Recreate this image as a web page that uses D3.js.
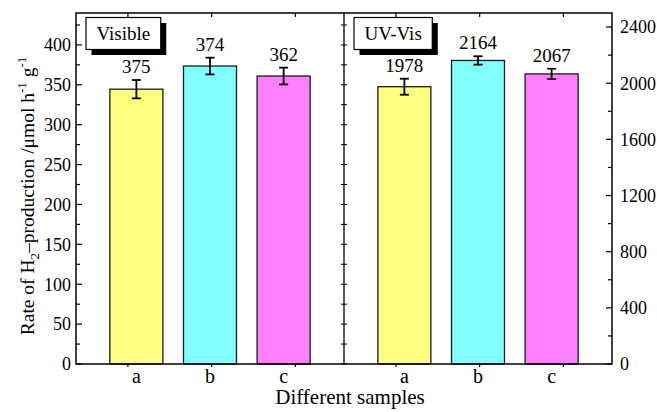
<!DOCTYPE html>
<html><head><meta charset="utf-8">
<script src="https://cdn.jsdelivr.net/npm/d3@7"></script>
<style>body{margin:0;background:#fff}svg{display:block}
svg text{font-family:"Liberation Serif","Times New Roman","DejaVu Serif",serif;}</style></head>
<body>
<svg id="chart" width="657" height="412"></svg>
<script>
// ---- data ----
const categories = ["a", "b", "c"];
const panelNames = ["Visible", "UV-Vis"];
const visibleValues = [344.5, 373.5, 361];
const visibleErrors = [11.5, 10.5, 10.5];
const visibleLabels = ["375", "374", "362"];
const uvVisValues = [1975, 2162, 2066];
const uvVisErrors = [57, 30, 37];
const uvVisLabels = ["1978", "2164", "2067"];
const leftTickValues = [0, 50, 100, 150, 200, 250, 300, 350, 400];
const leftMinorTicks = [25, 75, 125, 175, 225, 275, 325, 375, 425];
const rightTickValues = [0, 400, 800, 1200, 1600, 2000, 2400];
const rightMinorTicks = [200, 600, 1000, 1400, 1800, 2200];
const xTickValues = [1, 2, 3];
const barColors = ["#FFFF80", "#80FFFF", "#FF80FF"];

// ---- layout ----
const L = 76, R = 612, T = 13, B = 364, MID = 344;
const svg = d3.select("#chart");

const yLeft = d3.scaleLinear().domain([0, 440]).range([B, T]);
const yRight = d3.scaleLinear().domain([0, 2500]).range([B, T]);

const panels = [
  {name: panelNames[0], x0: L, x1: MID, values: visibleValues, errors: visibleErrors, labels: visibleLabels, y: yLeft},
  {name: panelNames[1], x0: MID, x1: R, values: uvVisValues, errors: uvVisErrors, labels: uvVisLabels, y: yRight}
];

panels.forEach(p => {
  const xb = d3.scaleBand().domain(categories).range([p.x0, p.x1]).paddingInner(0.28).paddingOuter(0.46);
  const xt = d3.scaleLinear().domain([0.38, 3.58]).range([p.x0, p.x1]);
  const g = svg.append("g");
  g.selectAll("rect.bar").data(categories).enter().append("rect")
    .attr("x", d => xb(d)).attr("width", xb.bandwidth())
    .attr("y", (d, i) => p.y(p.values[i]))
    .attr("height", (d, i) => p.y(0) - p.y(p.values[i]))
    .attr("fill", (d, i) => barColors[i]).attr("stroke", "#1a1a1a").attr("stroke-width", 1.3);
  categories.forEach((c, i) => {
    const cx = xb(c) + xb.bandwidth() / 2;
    const yt = p.y(p.values[i] + p.errors[i]), yb = p.y(p.values[i] - p.errors[i]);
    g.append("line").attr("x1", cx).attr("x2", cx).attr("y1", yt).attr("y2", yb).attr("stroke", "#000").attr("stroke-width", 1.8);
    [yt, yb].forEach(yy => g.append("line").attr("x1", cx - 4.5).attr("x2", cx + 4.5).attr("y1", yy).attr("y2", yy).attr("stroke", "#000").attr("stroke-width", 1.8));
    g.append("text").attr("x", cx).attr("y", yt - 7).attr("text-anchor", "middle")
      .style("font-size", "19px").text(p.labels[i]);
    g.append("text").attr("x", cx).attr("y", 383).attr("text-anchor", "middle")
      .style("font-size", "20px").text(c);
  });
  xTickValues.forEach(v => {
    g.append("line").attr("x1", xt(v)).attr("x2", xt(v)).attr("y1", T).attr("y2", T + 4).attr("stroke", "#000").attr("stroke-width", 1.2);
    g.append("line").attr("x1", xt(v)).attr("x2", xt(v)).attr("y1", B).attr("y2", B + 3).attr("stroke", "#000").attr("stroke-width", 1.2);
  });
  const bx = p.x0 + 10, by = 17.5, bh = 32;
  const shadow = g.append("rect").attr("fill", "#000");
  const box = g.append("rect").attr("fill", "#fff").attr("stroke", "#000").attr("stroke-width", 1.2);
  const tx = g.append("text").attr("y", by + bh / 2).attr("dy", "0.35em")
    .style("font-size", "19px").text(p.name);
  const tw = tx.node().getComputedTextLength();
  const bw = tw + 21;
  tx.attr("x", bx + 10.5);
  box.attr("x", bx).attr("y", by).attr("width", bw).attr("height", bh);
  shadow.attr("x", bx + 5.5).attr("y", by + 5.5).attr("width", bw).attr("height", bh);
});

const ax = svg.append("g");
ax.append("rect").attr("x", L).attr("y", T).attr("width", R - L).attr("height", B - T)
  .attr("fill", "none").attr("stroke", "#000").attr("stroke-width", 1.5);
ax.append("line").attr("x1", MID).attr("x2", MID).attr("y1", T).attr("y2", B).attr("stroke", "#000").attr("stroke-width", 1.3);

leftTickValues.forEach(v => {
  ax.append("line").attr("x1", L).attr("x2", L + 6).attr("y1", yLeft(v)).attr("y2", yLeft(v)).attr("stroke", "#000").attr("stroke-width", 1.2);
  ax.append("text").attr("x", L - 5).attr("y", yLeft(v)).attr("dy", "0.35em").attr("text-anchor", "end")
    .style("font-size", "18px").text(v);
});
leftMinorTicks.forEach(v => {
  ax.append("line").attr("x1", L).attr("x2", L + 4).attr("y1", yLeft(v)).attr("y2", yLeft(v)).attr("stroke", "#000").attr("stroke-width", 1.2);
});
leftTickValues.concat(leftMinorTicks).forEach(v => {
  ax.append("line").attr("x1", MID - 3).attr("x2", MID + 3).attr("y1", yLeft(v)).attr("y2", yLeft(v)).attr("stroke", "#000").attr("stroke-width", 1);
});
rightTickValues.forEach(v => {
  ax.append("line").attr("x1", R - 6).attr("x2", R).attr("y1", yRight(v)).attr("y2", yRight(v)).attr("stroke", "#000").attr("stroke-width", 1.2);
  ax.append("text").attr("x", R + 8).attr("y", yRight(v)).attr("dy", "0.35em").attr("text-anchor", "start")
    .style("font-size", "18px").text(v);
});
rightMinorTicks.forEach(v => {
  ax.append("line").attr("x1", R - 4).attr("x2", R).attr("y1", yRight(v)).attr("y2", yRight(v)).attr("stroke", "#000").attr("stroke-width", 1.2);
});

svg.append("text").attr("x", 350).attr("y", 404).attr("text-anchor", "middle")
  .style("font-size", "21px").text("Different samples");

const ytl = svg.append("text").attr("transform", "translate(34,196) rotate(-90)")
  .attr("text-anchor", "middle").style("font-size", "19.5px");
ytl.append("tspan").text("Rate of H");
ytl.append("tspan").attr("dy", 5).style("font-size", "13px").text("2");
ytl.append("tspan").attr("dy", -5).text("\u2013production /\u03bcmol h");
ytl.append("tspan").attr("dy", -8).style("font-size", "13px").text("-1");
ytl.append("tspan").attr("dy", 8).text(" g");
ytl.append("tspan").attr("dy", -8).style("font-size", "13px").text("-1");
</script>
</body></html>
